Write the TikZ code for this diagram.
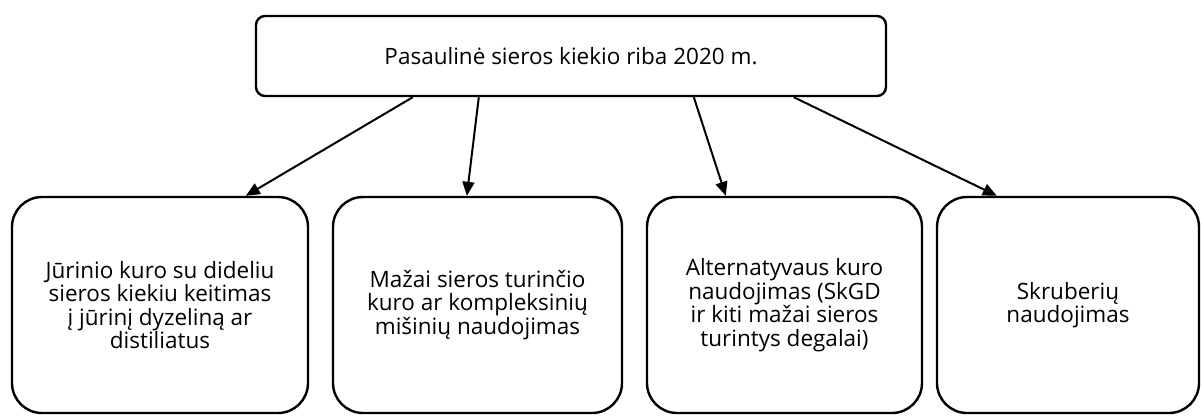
\documentclass[tikz,border=0pt]{standalone}
\usepackage{fontspec}
\setmainfont{Open Sans}
\usetikzlibrary{arrows.meta}
\tikzset{
  rbox/.style={draw, line width=2.4pt, rounded corners=#1, align=center,
    font=\fontsize{22.5}{23.6}\selectfont, inner sep=0pt, fill=white},
  arr/.style={line width=2pt, -{Triangle[length=14pt,width=12pt]}}
}
\begin{document}
\begin{tikzpicture}[x=1pt,y=-1pt]
\useasboundingbox[fill=white] (0,0) rectangle (1201,415);
\node[rbox=9pt, minimum width=630pt, minimum height=80pt] (top) at (571,56) {Pasaulinė sieros kiekio riba 2020 m.};
\node[rbox=30pt, minimum width=296pt, minimum height=216pt] (b1) at (160,305) {Jūrinio kuro su dideliu\\sieros kiekiu keitimas\\į jūrinį dyzeliną ar\\distiliatus};
\node[rbox=30pt, minimum width=289pt, minimum height=216pt] (b2) at (477.5,305) {Mažai sieros turinčio\\kuro ar kompleksinių\\mišinių naudojimas};
\node[rbox=30pt, minimum width=275pt, minimum height=216pt] (b3) at (784.5,305) {Alternatyvaus kuro\\naudojimas (SkGD\\ir kiti mažai sieros\\turintys degalai)};
\node[rbox=30pt, minimum width=262pt, minimum height=216pt] (b4) at (1068,305) {Skruberių\\naudojimas};
\draw[arr] ([xshift=158pt]top.south west) -- ([xshift=235pt]b1.north west);
\draw[arr] ([xshift=224pt]top.south west) -- ([xshift=135pt]b2.north west);
\draw[arr] ([xshift=439pt]top.south west) -- ([xshift=80pt]b3.north west);
\draw[arr] ([xshift=539pt]top.south west) -- ([xshift=61pt]b4.north west);
\end{tikzpicture}
\end{document}
